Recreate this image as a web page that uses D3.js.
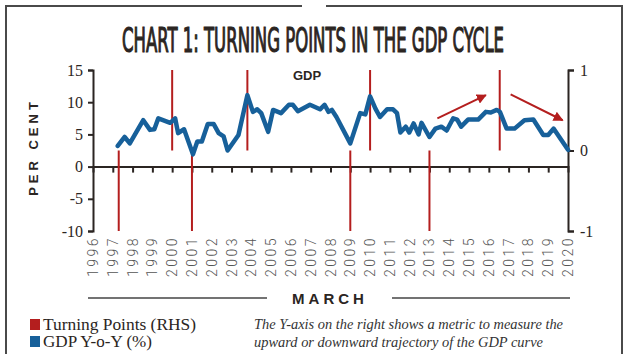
<!DOCTYPE html>
<html lang="en">
<head>
<meta charset="UTF-8">
<title>Chart 1: Turning points in the GDP cycle</title>
<style>
  body { margin: 0; background: #fff; }
  #chart { width: 628px; height: 354px; }
</style>
<script src="https://d3js.org/d3.v7.min.js"></script>
</head>
<body>
<div id="chart"></div>
<script>
// GDP Y-o-Y (%) (decimal year, value)
const gdpPeriods = [1997.25, 1997.6, 1997.86, 1998.54, 1998.88, 1999.1, 1999.3, 1999.9, 2000.15, 2000.3,
  2000.6, 2001.05, 2001.27, 2001.5, 2001.8, 2002.1, 2002.35, 2002.6, 2002.8, 2003.35,
  2003.8, 2004.08, 2004.3, 2004.5, 2004.85, 2005.1, 2005.5, 2005.9, 2006.1, 2006.35,
  2006.96, 2007.47, 2007.7, 2007.9, 2008.07, 2008.3, 2009.0, 2009.5, 2009.76, 2010.0,
  2010.27, 2010.5, 2010.86, 2011.16, 2011.36, 2011.53, 2011.8, 2011.98, 2012.2, 2012.45,
  2012.6, 2013.0, 2013.3, 2013.6, 2013.87, 2014.2, 2014.4, 2014.6, 2014.95, 2015.46,
  2015.85, 2016.1, 2016.4, 2016.56, 2016.9, 2017.3, 2017.8, 2018.25, 2018.75, 2019.0,
  2019.27, 2020.0];
const gdpValues = [3.2, 4.6, 3.6, 7.2, 5.7, 5.8, 7.5, 6.8, 7.5, 5.2,
  5.8, 1.9, 3.9, 3.9, 6.6, 6.6, 5.2, 4.7, 2.5, 4.9,
  11.1, 8.5, 8.9, 8.3, 5.4, 8.8, 8.3, 9.6, 9.6, 8.6,
  9.6, 8.9, 9.6, 8.5, 8.8, 7.7, 3.6, 8.3, 8.1, 10.9,
  9.0, 7.7, 8.9, 8.9, 8.3, 5.3, 6.2, 5.3, 6.7, 5.0,
  6.8, 4.6, 5.9, 6.2, 5.6, 7.5, 7.3, 6.2, 7.3, 7.3,
  8.5, 8.4, 8.8, 8.5, 5.9, 5.9, 7.2, 7.3, 4.9, 4.9,
  5.9, 2.6];

// turning points on the right-hand scale: +1 peak, -1 trough
const turningPeriods = [1997.3, 2000.0, 2001.0, 2003.8, 2009.0, 2010.0, 2013.0, 2016.55];
const turningValues = [-1, 1, -1, 1, -1, 1, -1, 1];

// trend arrows (decimal year, left-axis value)
const arrowStarts = [[2013.4, 7.5], [2017.1, 11.2]];
const arrowEnds = [[2015.85, 11.1], [2019.73, 7.2]];

const years = d3.range(1996, 2021);
const leftTicks = [15, 10, 5, 0, -5, -10];
const rightTicks = [1, 0, -1];

const W = 628, H = 354;
const svg = d3.select('#chart').append('svg')
    .attr('width', W)
    .attr('height', H)
    .style('font-family', 'Arial, sans-serif');

// scales
const x = d3.scaleLinear().domain([1996, 2020]).range([93, 568]);
const y = d3.scaleLinear().domain([-10, 15]).range([231, 70]);
const yR = d3.scaleLinear().domain([-1, 1]).range([231, 70]);

const ink = '#2b2522';
const red = '#b41e1e';
const blue = '#17609a';

const defs = svg.append('defs');
defs.append('marker')
    .attr('id', 'head')
    .attr('viewBox', '0 0 10 10')
    .attr('refX', 9).attr('refY', 5)
    .attr('markerWidth', 5).attr('markerHeight', 5)
    .attr('markerUnits', 'strokeWidth')
    .attr('orient', 'auto')
  .append('path')
    .attr('d', 'M0,0 L10,5 L0,10 z')
    .attr('fill', red);

// frame
svg.append('path')
    .attr('d', `M6,${H} V6 H302 M326,6 H622 V${H}`)
    .attr('fill', 'none').attr('stroke', '#4a4a4a').attr('stroke-width', 2);

// title (narrow font, stretched tall to match the condensed headline face)
svg.append('text')
    .attr('transform', 'translate(313,52) scale(1,1.65)')
    .attr('text-anchor', 'middle')
    .attr('textLength', 382).attr('lengthAdjust', 'spacingAndGlyphs')
    .style('font-family', '"Liberation Sans Narrow", "DejaVu Sans Condensed", sans-serif')
    .style('font-size', '20px')
    .attr('fill', ink)
    .attr('stroke', ink)
    .attr('stroke-width', 0.7)
    .text('CHART 1: TURNING POINTS IN THE GDP CYCLE');

// x axis along zero
const xAxis = svg.append('g')
    .attr('transform', `translate(0,${y(0)})`)
    .call(d3.axisBottom(x).tickValues(years.slice(1, -1)).tickSize(6).tickFormat(''));
xAxis.select('.domain').attr('stroke', ink).attr('stroke-width', 2);
xAxis.selectAll('.tick line').attr('stroke', ink).attr('stroke-width', 2);

// year labels
svg.append('g').selectAll('text')
    .data(years)
    .join('text')
    .attr('transform', d => `translate(${x(d) + 5},236) rotate(-90)`)
    .attr('text-anchor', 'end')
    .style('font-family', 'Roboto, sans-serif')
    .style('font-weight', 300)
    .style('font-size', '14px')
    .style('letter-spacing', '2.5px')
    .attr('fill', '#555')
    .text(d => d);

// left axis
const yAxis = svg.append('g')
    .attr('transform', `translate(${x(1996)},0)`)
    .call(d3.axisLeft(y).tickValues(leftTicks).tickSize(5).tickPadding(5).tickFormat(d => String(d)));
yAxis.select('.domain').attr('stroke', ink).attr('stroke-width', 2);
yAxis.selectAll('.tick line').attr('stroke', ink).attr('stroke-width', 2);
yAxis.selectAll('.tick text')
    .style('font-family', '"Liberation Serif", serif')
    .style('font-size', '16px')
    .attr('fill', ink);

// right axis
const yAxisR = svg.append('g')
    .attr('transform', `translate(${x(2020)},0)`)
    .call(d3.axisRight(yR).tickValues(rightTicks).tickSize(6).tickPadding(6).tickFormat(d => String(d)));
yAxisR.select('.domain').attr('stroke', ink).attr('stroke-width', 2);
yAxisR.selectAll('.tick line').attr('stroke', ink).attr('stroke-width', 2);
yAxisR.selectAll('.tick text')
    .style('font-family', '"Liberation Serif", serif')
    .style('font-size', '16px')
    .attr('fill', ink);

// y label
svg.append('text')
    .attr('transform', 'translate(38,147) rotate(-90)')
    .attr('text-anchor', 'middle')
    .style('font-size', '13px')
    .style('font-weight', 'bold')
    .style('letter-spacing', '4px')
    .attr('fill', ink)
    .text('PER CENT');

// turning point lines (RHS)
svg.append('g').selectAll('line')
    .data(turningPeriods)
    .join('line')
    .attr('x1', d => x(d)).attr('x2', d => x(d))
    .attr('y1', yR(0))
    .attr('y2', (d, i) => yR(turningValues[i]))
    .attr('stroke', red)
    .attr('stroke-width', 2);

// GDP line
const gdp = gdpPeriods.map((p, i) => [p, gdpValues[i]]);
svg.append('path')
    .datum(gdp)
    .attr('d', d3.line().x(d => x(d[0])).y(d => y(d[1])))
    .attr('fill', 'none')
    .attr('stroke', blue)
    .attr('stroke-width', 4.5)
    .attr('stroke-linejoin', 'round')
    .attr('stroke-linecap', 'round');

// arrows
svg.append('g').selectAll('line')
    .data(arrowStarts)
    .join('line')
    .attr('x1', d => x(d[0])).attr('y1', d => y(d[1]))
    .attr('x2', (d, i) => x(arrowEnds[i][0])).attr('y2', (d, i) => y(arrowEnds[i][1]))
    .attr('stroke', red)
    .attr('stroke-width', 2)
    .attr('marker-end', 'url(#head)');

// series label
svg.append('text')
    .attr('x', 307).attr('y', 80)
    .attr('text-anchor', 'middle')
    .style('font-size', '13px')
    .style('font-weight', 'bold')
    .attr('fill', ink)
    .text('GDP');

// MARCH caption with rules
svg.append('line').attr('x1', 88).attr('x2', 267).attr('y1', 298).attr('y2', 298)
    .attr('stroke', '#444').attr('stroke-width', 1.5);
svg.append('line').attr('x1', 392).attr('x2', 570).attr('y1', 298).attr('y2', 298)
    .attr('stroke', '#444').attr('stroke-width', 1.5);
svg.append('text')
    .attr('x', 330).attr('y', 304)
    .attr('text-anchor', 'middle')
    .style('font-size', '15px')
    .style('font-weight', 'bold')
    .style('letter-spacing', '4px')
    .attr('fill', ink)
    .text('MARCH');

// legend
const legendItems = ['Turning Points (RHS)', 'GDP Y-o-Y (%)'];
const legendColors = [red, blue];
const legendWidths = [153, 109];
const lg = svg.append('g').selectAll('g')
    .data(legendItems)
    .join('g')
    .attr('transform', (d, i) => `translate(30,${319 + i * 17})`);
lg.append('rect').attr('width', 10).attr('height', 11).attr('fill', (d, i) => legendColors[i]);
lg.append('text')
    .attr('x', 13).attr('y', 11)
    .attr('textLength', (d, i) => legendWidths[i]).attr('lengthAdjust', 'spacingAndGlyphs')
    .style('font-family', '"Liberation Serif", serif')
    .style('font-size', '16px')
    .attr('fill', ink)
    .text(d => d);

// note
const noteLines = ['The Y-axis on the right shows a metric to measure the',
  'upward or downward trajectory of the GDP curve'];
const noteWidths = [309, 289];
svg.append('g').selectAll('text')
    .data(noteLines)
    .join('text')
    .attr('x', 254).attr('y', (d, i) => 329 + i * 18)
    .attr('textLength', (d, i) => noteWidths[i]).attr('lengthAdjust', 'spacingAndGlyphs')
    .style('font-family', '"Liberation Serif", serif')
    .style('font-style', 'italic')
    .style('font-size', '15px')
    .attr('fill', '#333')
    .text(d => d);
</script>
</body>
</html>
